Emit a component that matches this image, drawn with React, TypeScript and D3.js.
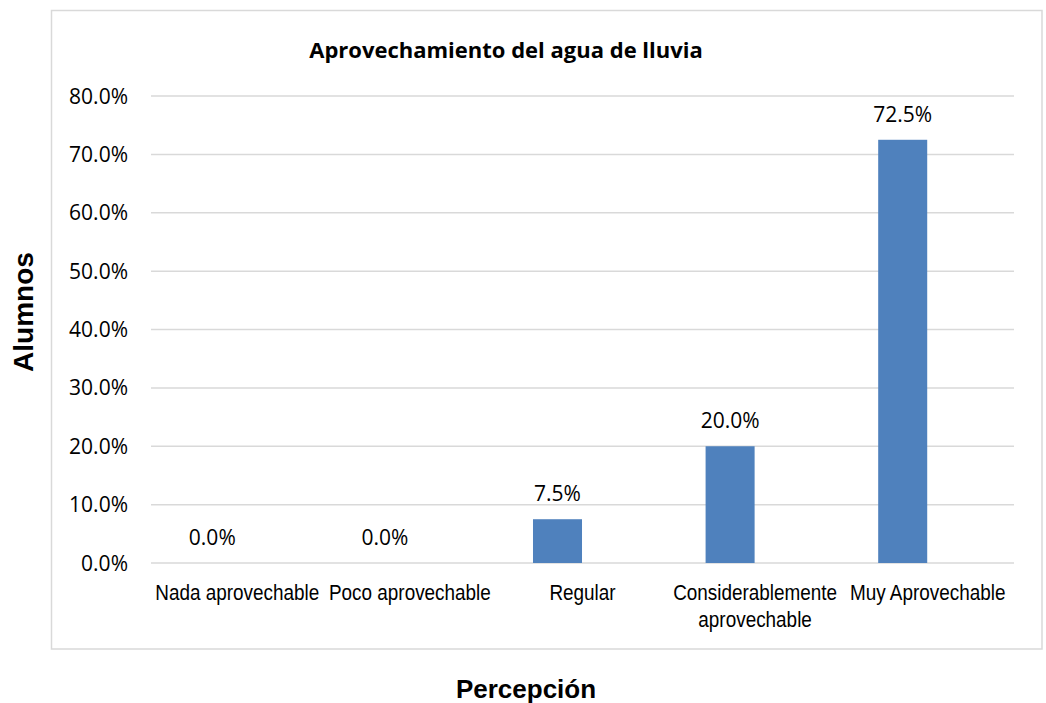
import React, { useEffect, useRef } from "react";
import * as d3 from "d3";

const categories = [
  "Nada aprovechable",
  "Poco aprovechable",
  "Regular",
  "Considerablemente aprovechable",
  "Muy Aprovechable",
];
const values = [0, 0, 0.075, 0.2, 0.725];
const yTicks = [0, 0.1, 0.2, 0.3, 0.4, 0.5, 0.6, 0.7, 0.8];
const title = "Aprovechamiento del agua de lluvia";
const xTitle = "Percepción";
const yTitle = "Alumnos";

const W = 1046;
const H = 703;

export default function App() {
  const ref = useRef<SVGSVGElement | null>(null);

  useEffect(() => {
    document.body.style.margin = "0";
    const svg = d3.select(ref.current);
    svg.selectAll("*").remove();

    const left = 151;
    const right = 1014;
    const top = 96;
    const bottom = 563;

    const x = d3.scaleBand<string>().domain(categories).range([left, right]);
    const xb = d3
      .scaleBand<string>()
      .domain(categories)
      .range([left - 25, right - 25])
      .paddingInner(0.716)
      .paddingOuter(0.358);
    const y = d3.scaleLinear().domain([0, 0.8]).range([bottom, top]);
    const fmt = d3.format(".1%");

    // outer border
    svg
      .append("rect")
      .attr("x", 51.5)
      .attr("y", 10.5)
      .attr("width", 990.5)
      .attr("height", 638.5)
      .attr("fill", "#fff")
      .attr("stroke", "#d9d9d9")
      .attr("stroke-width", 1.5);

    // gridlines
    svg
      .append("g")
      .selectAll("line")
      .data(yTicks)
      .join("line")
      .attr("x1", left)
      .attr("x2", right)
      .attr("y1", (d) => y(d))
      .attr("y2", (d) => y(d))
      .attr("stroke", "#d9d9d9")
      .attr("stroke-width", 1.5);

    // y tick labels
    svg
      .append("g")
      .selectAll("text")
      .data(yTicks)
      .join("text")
      .attr("x", 128)
      .attr("y", (d) => y(d))
      .attr("dy", "0.36em")
      .attr("text-anchor", "end")
      .attr("font-family", "'Open Sans', sans-serif")
      .attr("font-size", 21)
      .attr("fill", "#000")
      .text((d) => fmt(d));

    // bars
    svg
      .append("g")
      .selectAll("rect")
      .data(categories)
      .join("rect")
      .attr("x", (d) => xb(d)!)
      .attr("width", xb.bandwidth())
      .attr("y", (d, i) => y(values[i]))
      .attr("height", (d, i) => y(0) - y(values[i]))
      .attr("fill", "#4f81bd");

    // value labels
    svg
      .append("g")
      .selectAll("text")
      .data(categories)
      .join("text")
      .attr("x", (d) => xb(d)! + xb.bandwidth() / 2)
      .attr("y", (d, i) => y(values[i]) - 18)
      .attr("text-anchor", "middle")
      .attr("font-family", "'Open Sans', sans-serif")
      .attr("font-size", 21)
      .attr("fill", "#000")
      .text((d, i) => fmt(values[i]));

    // category labels with wrapping (condensed Arial-like)
    const squeeze = 0.86;
    const catG = svg.append("g");
    categories.forEach((c) => {
      const cx = x(c)! + x.bandwidth() / 2;
      const t = catG
        .append("text")
        .attr("transform", `translate(${cx},0) scale(${squeeze},1)`)
        .attr("text-anchor", "middle")
        .attr("font-family", "'Liberation Sans', Arial, sans-serif")
        .attr("font-size", 22)
        .attr("fill", "#000");
      const words = c.split(" ");
      let line: string[] = [];
      let lineNo = 0;
      let tspan = t.append("tspan").attr("x", 0).attr("y", 600);
      words.forEach((w) => {
        line.push(w);
        tspan.text(line.join(" "));
        const node = tspan.node() as SVGTSpanElement;
        if (node.getComputedTextLength() * squeeze > x.bandwidth() + 6 && line.length > 1) {
          line.pop();
          tspan.text(line.join(" "));
          line = [w];
          lineNo += 1;
          tspan = t
            .append("tspan")
            .attr("x", 0)
            .attr("y", 600 + lineNo * 27)
            .text(w);
        }
      });
    });

    // title
    svg
      .append("text")
      .attr("x", 506)
      .attr("y", 58)
      .attr("text-anchor", "middle")
      .attr("font-family", "'Open Sans', sans-serif")
      .attr("font-weight", "bold")
      .attr("font-size", 22)
      .attr("fill", "#000")
      .text(title);

    // x title
    svg
      .append("text")
      .attr("x", 526)
      .attr("y", 698)
      .attr("text-anchor", "middle")
      .attr("font-family", "'Liberation Sans', Arial, sans-serif")
      .attr("font-weight", "bold")
      .attr("font-size", 26)
      .attr("fill", "#000")
      .text(xTitle);

    // y title
    svg
      .append("text")
      .attr("transform", "translate(33,312) rotate(-90)")
      .attr("text-anchor", "middle")
      .attr("font-family", "'Liberation Sans', Arial, sans-serif")
      .attr("font-weight", "bold")
      .attr("font-size", 28)
      .attr("fill", "#000")
      .text(yTitle);
  }, []);

  return <svg ref={ref} width={W} height={H} style={{ display: "block" }} />;
}
